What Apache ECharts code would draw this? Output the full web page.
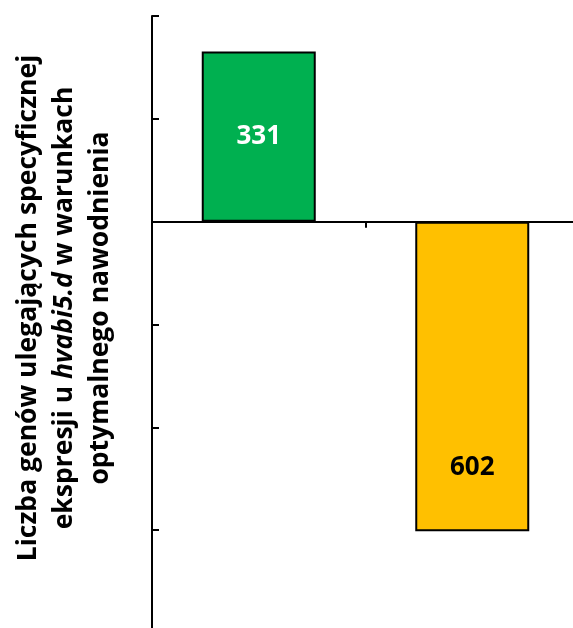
<!DOCTYPE html>
<html>
<head>
<meta charset="utf-8">
<script src="https://cdn.jsdelivr.net/npm/echarts@6/dist/echarts.min.js"></script>
<style>
  html, body { margin: 0; padding: 0; background: #fff; overflow: hidden; }
  /* canvas slightly larger than the window so the plot area runs past its edges */
  #chart { width: 579px; height: 633px; }
</style>
</head>
<body>
<div id="chart"></div>
<script>
// Gene counts: up-regulated (positive) and down-regulated (negative)
const categories = ['wzrost', 'spadek'];
const geneCounts = [331, -602];
const barColors = ['#00B050', '#FFC000'];
const labelColors = ['#ffffff', '#000000'];
const yMin = -800, yMax = 400, yStep = 200;

const chart = echarts.init(document.getElementById('chart'));

const font = '"Open Sans", sans-serif';

chart.setOption({
  animation: false,
  backgroundColor: '#ffffff',
  grid: { left: 152, right: 0, top: 16, bottom: 0 },
  xAxis: {
    type: 'category',
    data: categories,
    axisLine: { onZero: true, lineStyle: { color: '#000', width: 2 } },
    axisTick: { show: true, length: 6, lineStyle: { color: '#000', width: 2 } },
    axisLabel: { show: false },
    splitLine: { show: false }
  },
  yAxis: {
    type: 'value',
    min: yMin,
    max: yMax,
    interval: yStep,
    axisLine: { show: true, lineStyle: { color: '#000', width: 2 } },
    axisTick: { show: true, inside: true, length: 7, lineStyle: { color: '#000', width: 2 } },
    axisLabel: { show: false },
    splitLine: { show: false }
  },
  graphic: [{
    type: 'text',
    x: 64,
    y: 308,
    rotation: Math.PI / 2,
    style: {
      text: 'Liczba genów ulegających specyficznej\nekspresji u {i|hvabi5.d} w warunkach\noptymalnego nawodnienia',
      font: 'bold 26.5px "Open Sans", sans-serif',
      fill: '#000',
      align: 'center',
      verticalAlign: 'middle',
      lineHeight: 36,
      rich: {
        i: { fontStyle: 'italic', fontWeight: 'bold', fontSize: 26.5, fontFamily: font, lineHeight: 36 }
      }
    }
  }],
  series: [{
    type: 'bar',
    barWidth: 114,
    data: geneCounts.map((v, i) => ({
      value: v,
      itemStyle: { color: barColors[i], borderColor: '#000', borderWidth: 2 },
      label: {
        color: labelColors[i],
        offset: v < 0 ? [0, 91] : [0, 0]
      }
    })),
    label: {
      show: true,
      position: 'inside',
      fontFamily: font,
      fontWeight: 'bold',
      fontSize: 26,
      formatter: p => String(Math.abs(p.value))
    }
  }]
});
</script>
</body>
</html>
